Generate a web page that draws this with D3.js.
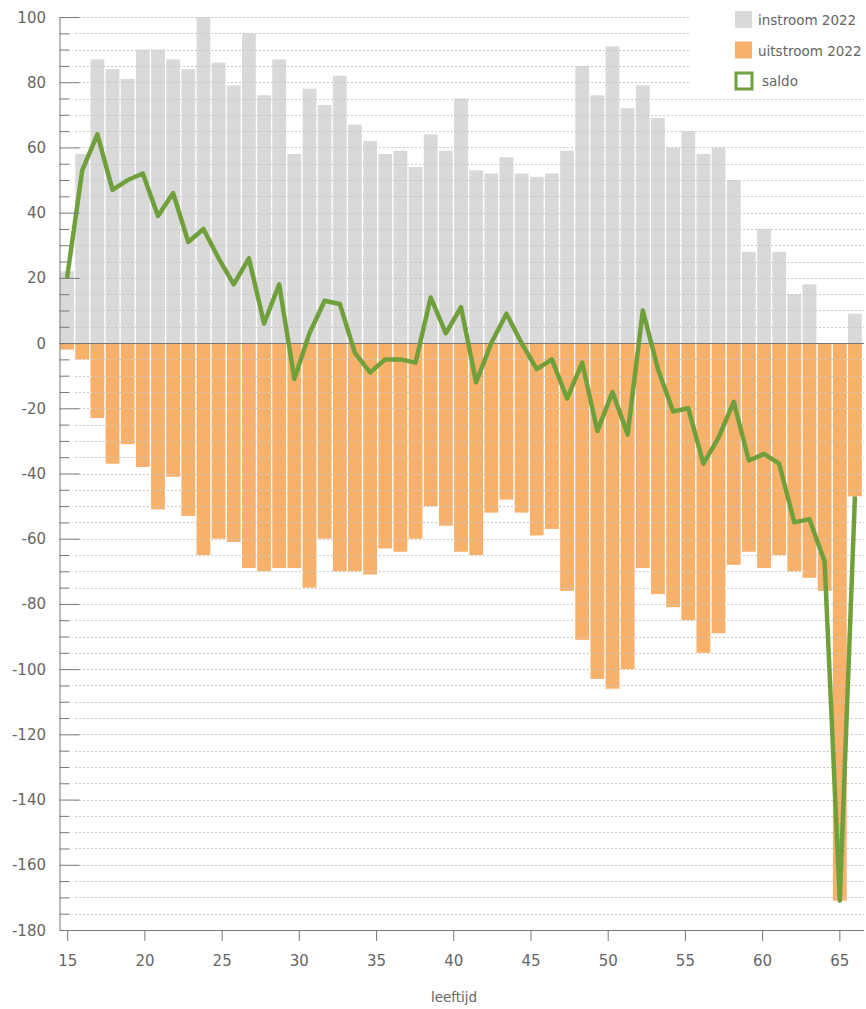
<!DOCTYPE html>
<html>
<head>
<meta charset="utf-8">
<script src="https://cdn.jsdelivr.net/npm/d3@7"></script>
<style>
    body { margin: 0; background: #fff; }
    text { font-family: "DejaVu Sans", Verdana, sans-serif; fill: #666; }
</style>
</head>
<body>
<div id="chart-container"></div>
<script>
// leeftijd categories (53 bars as drawn in the picture)
const leeftijd = [15, 16, 17, 18, 19, 20, 21, 22, 23, 24, 25, 26, 27, 28, 29, 30, 31, 32, 33, 34,
    35, 36, 37, 38, 39, 40, 41, 42, 43, 44, 45, 46, 47, 48, 49, 50, 51, 52, 53, 54,
    55, 56, 57, 58, 59, 60, 61, 62, 63, 64, 65, 66, 67];

const instroom = [22, 58, 87, 84, 81, 90, 90, 87, 84, 100, 86, 79, 95, 76, 87, 58, 78, 73, 82, 67,
    62, 58, 59, 54, 64, 59, 75, 53, 52, 57, 52, 51, 52, 59, 85, 76, 91, 72, 79, 69,
    60, 65, 58, 60, 50, 28, 35, 28, 15, 18, 0, 0, 9];

const uitstroom = [-2, -5, -23, -37, -31, -38, -51, -41, -53, -65, -60, -61, -69, -70, -69, -69, -75, -60, -70, -70,
    -71, -63, -64, -60, -50, -56, -64, -65, -52, -48, -52, -59, -57, -76, -91, -103, -106, -100, -69, -77,
    -81, -85, -95, -89, -68, -64, -69, -65, -70, -72, -76, -171, -47];

const saldo = [20, 53, 64, 47, 50, 52, 39, 46, 31, 35, 26, 18, 26, 6, 18, -11, 3, 13, 12, -3,
    -9, -5, -5, -6, 14, 3, 11, -12, 0, 9, 0, -8, -5, -17, -6, -27, -15, -28, 10, -8,
    -21, -20, -37, -29, -18, -36, -34, -37, -55, -54, -67, -171, -47];

// axis ticks
const xTicks = [15, 20, 25, 30, 35, 40, 45, 50, 55, 60, 65];
const yMajorTicks = [100, 80, 60, 40, 20, 0, -20, -40, -60, -80, -100, -120, -140, -160, -180];

const legendItems = [
    { label: "instroom 2022", type: "in" },
    { label: "uitstroom 2022", type: "uit" },
    { label: "saldo", type: "saldo" }
];

const GRAY = "#d9d9d9";
const ORANGE = "#f7b16b";
const GREEN = "#70a03c";

const totalWidth = 866, totalHeight = 1009;
const plot = { left: 59.5, right: 862.5, top: 17, bottom: 930 };

const svg = d3.select("#chart-container").append("svg")
    .attr("width", totalWidth)
    .attr("height", totalHeight);

// bars use a band scale, the age axis a linear one over the same pixels
const xBand = d3.scaleBand()
    .domain(leeftijd)
    .range([plot.left, plot.right])
    .paddingInner(0.09)
    .paddingOuter(0.045);

const xAxisScale = d3.scaleLinear().domain([14.5, 66.5]).range([plot.left, plot.right]);
const y = d3.scaleLinear().domain([-180, 100]).range([plot.bottom, plot.top]);

const rows = leeftijd.map((a, i) => ({ age: a, inVal: instroom[i], outVal: uitstroom[i], saldo: saldo[i] }));

// instroom bars
svg.append("g").selectAll("rect")
    .data(rows.filter(d => d.inVal > 0))
    .enter().append("rect")
    .attr("x", d => xBand(d.age))
    .attr("width", xBand.bandwidth())
    .attr("y", d => y(d.inVal))
    .attr("height", d => y(0) - y(d.inVal))
    .attr("fill", GRAY);

// uitstroom bars
svg.append("g").selectAll("rect")
    .data(rows)
    .enter().append("rect")
    .attr("x", d => xBand(d.age))
    .attr("width", xBand.bandwidth())
    .attr("y", y(0))
    .attr("height", d => y(d.outVal) - y(0))
    .attr("fill", ORANGE);

// dotted gridlines every 5, drawn over the bars
const gridValues = d3.range(-175, 101, 5).filter(v => v !== 0);
svg.append("g").selectAll("line")
    .data(gridValues)
    .enter().append("line")
    .attr("x1", 75)
    .attr("x2", 864)
    .attr("y1", d => Math.round(y(d)) + 0.5)
    .attr("y2", d => Math.round(y(d)) + 0.5)
    .attr("stroke", "#c8c8c8")
    .attr("stroke-width", 1)
    .attr("stroke-dasharray", "2,2");

// zero line
svg.append("line")
    .attr("x1", plot.left).attr("x2", 864)
    .attr("y1", Math.round(y(0)) + 0.5).attr("y2", Math.round(y(0)) + 0.5)
    .attr("stroke", "#777").attr("stroke-width", 1.2);

// saldo line
const line = d3.line()
    .x(d => xBand(d.age) + xBand.bandwidth() / 2)
    .y(d => y(d.saldo));

svg.append("path")
    .datum(rows)
    .attr("fill", "none")
    .attr("stroke", GREEN)
    .attr("stroke-width", 4.5)
    .attr("stroke-linejoin", "round")
    .attr("d", line);

// y axis with major ticks (labelled) and minor ticks pointing inward
const yAxisG = svg.append("g").attr("transform", "translate(" + plot.left + ",0)");
yAxisG.call(d3.axisRight(y).tickValues(d3.range(-175, 101, 5)).tickSize(10).tickFormat(""));
yAxisG.selectAll(".tick line")
    .attr("x2", d => d % 20 === 0 ? 20 : 10)
    .attr("stroke", "#777");
yAxisG.select(".domain").attr("stroke", "#777").attr("d", "M0.5," + plot.top + "V" + plot.bottom);

svg.append("g").selectAll("text")
    .data(yMajorTicks)
    .enter().append("text")
    .attr("x", 46)
    .attr("y", d => y(d) + 5.5)
    .attr("text-anchor", "end")
    .attr("font-size", "15px")
    .text(d => d);

// x axis
const xAxisG = svg.append("g").attr("transform", "translate(0," + plot.bottom + ")");
xAxisG.call(d3.axisBottom(xAxisScale).tickValues(xTicks).tickSize(11).tickPadding(14));
xAxisG.select(".domain").attr("stroke", "#777").attr("d", "M" + plot.left + ",0.5H864");
xAxisG.selectAll(".tick line").attr("stroke", "#777");
xAxisG.selectAll(".tick text")
    .attr("font-size", "15px")
    .attr("font-family", "DejaVu Sans, Verdana, sans-serif")
    .attr("fill", "#666");

svg.append("text")
    .attr("x", 454)
    .attr("y", 1002)
    .attr("text-anchor", "middle")
    .attr("font-size", "13.5px")
    .text("leeftijd");

// legend with white background covering the gridlines
svg.append("rect")
    .attr("x", 690).attr("y", 0)
    .attr("width", 176).attr("height", 91)
    .attr("fill", "#fff");

const legend = svg.append("g").selectAll("g")
    .data(legendItems)
    .enter().append("g")
    .attr("transform", (d, i) => "translate(735," + (11 + i * 30.5) + ")");

legend.append("rect")
    .attr("x", d => d.type === "saldo" ? 1 : 0)
    .attr("y", d => d.type === "saldo" ? 1 : 0)
    .attr("width", d => d.type === "saldo" ? 16 : 17)
    .attr("height", d => d.type === "saldo" ? 16 : 17)
    .attr("fill", d => d.type === "in" ? GRAY : d.type === "uit" ? ORANGE : "#fff")
    .attr("stroke", d => d.type === "saldo" ? GREEN : "none")
    .attr("stroke-width", 3);

legend.append("text")
    .attr("x", d => d.type === "saldo" ? 27 : 23)
    .attr("y", 14)
    .attr("font-size", "13.5px")
    .text(d => d.label);
</script>
</body>
</html>
